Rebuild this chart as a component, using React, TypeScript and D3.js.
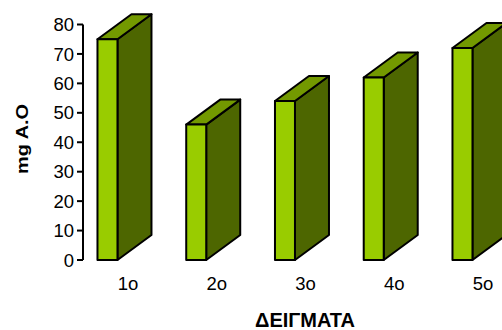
import React from "react";
import * as d3 from "d3";

const categories = ["1ο", "2ο", "3ο", "4ο", "5ο"];
const values = [75, 46, 54, 62, 72];
const yTicks = [0, 10, 20, 30, 40, 50, 60, 70, 80];

const W = 502;
const H = 330;
const axisX = 83;
const y = d3.scaleLinear().domain([0, 80]).range([260, 24.5]);
const x = d3.scaleBand<string>().domain(categories).range([83.6, 83.6 + 5 * 88.75]).padding(0);

const FRONT_W = 20;
const DX = 34;
const DY = 25;
const FONT = "'Liberation Sans', Arial, sans-serif";

export default function App() {
  return (
    <svg width={W} height={H} style={{ position: "absolute", left: 0, top: 0 }}>
      <rect width={W} height={H} fill="#fff" />
      {categories.map((c, i) => {
        const cx = (x(c) as number) + x.bandwidth() / 2;
        const x0 = cx - 30.5;
        const x1 = x0 + FRONT_W;
        const yb = y(0);
        const yt = y(values[i]);
        const side = `M${x1},${yb} L${x1 + DX},${yb - DY} L${x1 + DX},${yt - DY} L${x1},${yt} Z`;
        const top = `M${x0},${yt} L${x0 + DX},${yt - DY} L${x1 + DX},${yt - DY} L${x1},${yt} Z`;
        return (
          <g key={c} stroke="#000" strokeWidth={2} strokeLinejoin="round">
            <path d={side} fill="#4D6600" />
            <path d={top} fill="#739900" />
            <rect x={x0} y={yt} width={FRONT_W} height={yb - yt} fill="#99CC00" />
          </g>
        );
      })}
      <line x1={axisX} x2={axisX} y1={y(80)} y2={y(0)} stroke="#000" strokeWidth={2} />
      {yTicks.map((t) => (
        <g key={t}>
          <line x1={axisX - 6} x2={axisX} y1={y(t)} y2={y(t)} stroke="#000" strokeWidth={2} />
          <text x={74} y={y(t)} dy="0.36em" textAnchor="end" fontFamily={FONT} fontSize={18.5} fill="#000">
            {t}
          </text>
        </g>
      ))}
      {categories.map((c) => (
        <text
          key={c}
          x={(x(c) as number) + x.bandwidth() / 2}
          y={290}
          textAnchor="middle"
          fontFamily={FONT}
          fontSize={18.5}
          fill="#000"
        >
          {c}
        </text>
      ))}
      <text
        transform={`translate(28,139) rotate(-90)`}
        textAnchor="middle"
        fontFamily={FONT}
        fontSize={16}
        fontWeight="bold"
        textLength={70}
        lengthAdjust="spacingAndGlyphs"
        fill="#000"
      >
        mg A.O
      </text>
      <text x={305} y={327} textAnchor="middle" fontFamily={FONT} fontSize={20} fontWeight="bold" fill="#000">
        ΔΕΙΓΜΑΤΑ
      </text>
    </svg>
  );
}
